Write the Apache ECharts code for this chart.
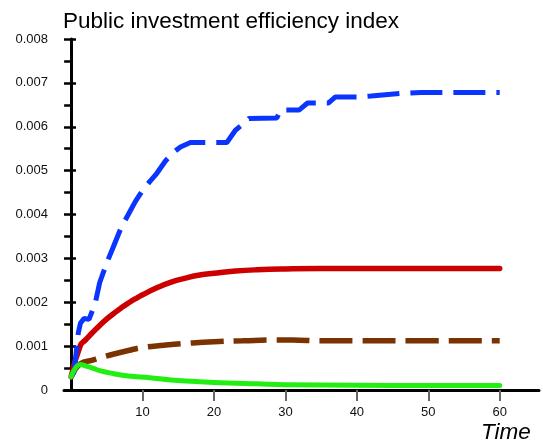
<!DOCTYPE html>
<html>
<head>
<meta charset="utf-8">
<script src="https://cdn.jsdelivr.net/npm/echarts@6/dist/echarts.min.js"></script>
<style>html,body{margin:0;padding:0;background:#fff}#c{width:543px;height:443px}</style>
</head>
<body>
<div id="c"></div>
<script>
var titleText = 'Public investment efficiency index';
var xName = 'Time';
var xTickValues = [10, 20, 30, 40, 50, 60];
var yTickLabels = ['0', '0.001', '0.002', '0.003', '0.004', '0.005', '0.006', '0.007', '0.008'];
var yOuterTicks = [0, 0.001, 0.002, 0.003, 0.004, 0.005, 0.006, 0.007];

var blueT = [0, 0.4, 1.0, 1.3, 1.8, 2.5, 3, 3.4, 4, 5, 6, 7, 8, 9, 10, 11, 12, 13.2, 14.2, 15.3, 16.7, 21.8, 23, 24.1, 24.9, 28.8, 29.3, 31.9, 33.1, 36, 37, 40.5, 42, 46, 49, 60];
var blueV = [0.0003, 0.0004, 0.0013, 0.00152, 0.00163, 0.00161, 0.00182, 0.002, 0.00245, 0.0029, 0.0033, 0.0037, 0.004, 0.0043, 0.00455, 0.00475, 0.00494, 0.00522, 0.0054, 0.00554, 0.00564, 0.00564, 0.00592, 0.00607, 0.00619, 0.0062, 0.00638, 0.00638, 0.00654, 0.00654, 0.00668, 0.00668, 0.0067, 0.00676, 0.00678, 0.00678];

var redT = [0, 1.3, 2, 3, 4, 5, 6, 7, 8, 9, 10, 12, 14, 16, 18, 20, 23, 26, 30, 35, 40, 50, 60];
var redV = [0.0003, 0.00102, 0.00114, 0.00131, 0.00147, 0.00162, 0.00175, 0.00187, 0.00198, 0.00208, 0.00217, 0.00233, 0.00246, 0.00255, 0.00262, 0.00266, 0.00271, 0.00274, 0.00276, 0.00277, 0.00277, 0.00277, 0.00277];

var brownT = [0, 1.3, 3, 4, 6, 8, 10, 13, 16, 20, 24, 28, 31, 35, 40, 50, 60];
var brownV = [0.0003, 0.0006, 0.00068, 0.00073, 0.00082, 0.0009, 0.00097, 0.00102, 0.00106, 0.0011, 0.00112, 0.00114, 0.00114, 0.00112, 0.00112, 0.00112, 0.00112];

var greenT = [0, 1.3, 2, 3, 4, 6, 8, 11, 14, 18, 22, 26, 30, 40, 50, 60];
var greenV = [0.0003, 0.00058, 0.00055, 0.0005, 0.00044, 0.00037, 0.00032, 0.00028, 0.00023, 0.00019, 0.00016, 0.00014, 0.00012, 0.00011, 0.0001, 0.0001];

function pairs(t, v) { return t.map(function (x, i) { return [x, v[i]]; }); }

var font = 'Liberation Sans, Arial, sans-serif';
var chart = echarts.init(document.getElementById('c'), null, { renderer: 'canvas' });
chart.setOption({
  animation: false,
  title: [
    { text: titleText, left: 58, top: 5, textStyle: { fontFamily: font, fontSize: 22.5, fontWeight: 'normal', color: '#000' } },
    { text: xName, left: 476, top: 416, textStyle: { fontFamily: font, fontSize: 22.5, fontWeight: 'normal', fontStyle: 'italic', color: '#000' } }
  ],
  grid: { left: 64, right: 4, top: 39, bottom: 53, containLabel: false },
  xAxis: {
    type: 'value', min: -1, max: 65.5,
    axisLine: { show: true, lineStyle: { color: '#000', width: 3 } },
    axisTick: { show: true, inside: false, length: 11, customValues: xTickValues, lineStyle: { color: '#666', width: 2 } },
    axisLabel: { show: true, customValues: xTickValues, margin: 16, fontFamily: font, fontSize: 13, color: '#111' },
    splitLine: { show: false }
  },
  yAxis: [
    {
      type: 'value', min: 0, max: 0.008, interval: 0.001, position: 'left',
      axisLine: { show: true, lineStyle: { color: '#000', width: 3 } },
      axisTick: { show: true, inside: false, length: 7, customValues: yOuterTicks, lineStyle: { color: '#000', width: 2.5 } },
      minorTick: { show: true, splitNumber: 2, length: 7, lineStyle: { color: '#000', width: 2.5 } },
      axisLabel: { margin: 16, fontFamily: font, fontSize: 13, color: '#111', formatter: function (v, i) { return yTickLabels[i]; } },
      splitLine: { show: false }
    },
    {
      type: 'value', min: 0, max: 0.008, interval: 0.001, position: 'left',
      axisLine: { show: false },
      axisTick: { show: true, inside: true, length: 12, lineStyle: { color: '#000', width: 2.5 } },
      axisLabel: { show: false },
      splitLine: { show: false }
    }
  ],
  series: [
    { type: 'line', data: pairs(redT, redV), showSymbol: false, smooth: 0.5,
      lineStyle: { color: '#cc0000', width: 5.5, cap: 'round', join: 'round' } },
    { type: 'line', data: pairs(brownT, brownV), showSymbol: false, smooth: 0.5,
      lineStyle: { color: '#7a3300', width: 5.5, type: [33, 10], cap: 'butt' } },
    { type: 'line', data: pairs(blueT, blueV), showSymbol: false, smooth: false,
      lineStyle: { color: '#0a35ff', width: 5, type: [32, 11], cap: 'butt' } },
    { type: 'line', data: pairs(greenT, greenV), showSymbol: false, smooth: 0.5,
      lineStyle: { color: '#22ee11', width: 5, cap: 'round', join: 'round' } }
  ]
});
</script>
</body>
</html>
